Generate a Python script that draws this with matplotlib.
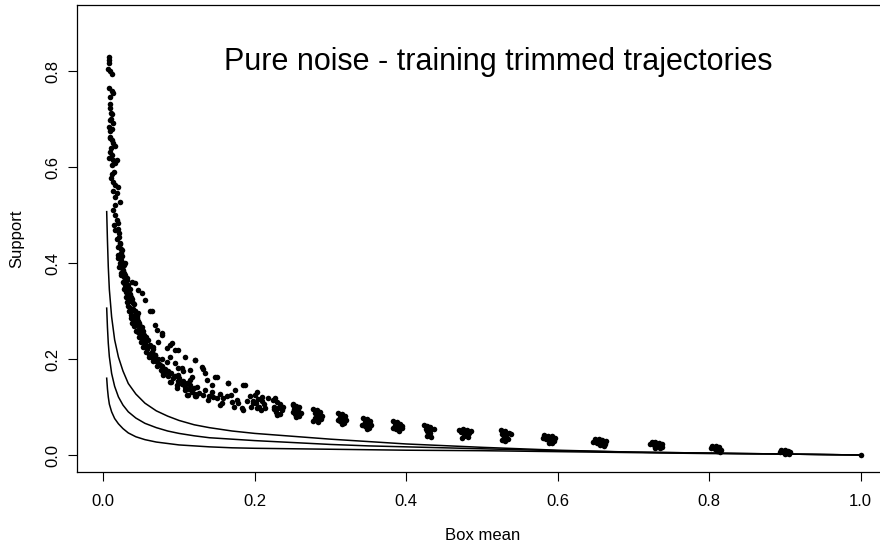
import matplotlib
matplotlib.use("Agg")
import matplotlib.pyplot as plt

plt.rcParams['font.family'] = ['Liberation Sans', 'DejaVu Sans']

# reference curves (box mean vs support)
curve_x = [0.0045, 0.0055, 0.0066, 0.008, 0.011, 0.015, 0.02, 0.026, 0.033, 0.043,
           0.055, 0.07, 0.085, 0.10, 0.12, 0.14, 0.17, 0.20, 0.25, 0.30,
           0.35, 0.40, 0.50, 0.60, 0.70, 0.80, 0.90, 1.00]
curve_hi = [0.507, 0.447, 0.392, 0.345, 0.288, 0.240, 0.204, 0.175, 0.149, 0.127,
            0.108, 0.092, 0.081, 0.072, 0.063, 0.057, 0.050, 0.045, 0.039, 0.033,
            0.028, 0.023, 0.016, 0.010, 0.006, 0.004, 0.002, 0.000]
curve_mid = [0.306, 0.266, 0.233, 0.205, 0.170, 0.143, 0.121, 0.104, 0.090, 0.077,
             0.066, 0.057, 0.050, 0.045, 0.040, 0.036, 0.033, 0.030, 0.026, 0.022,
             0.019, 0.017, 0.013, 0.009, 0.006, 0.004, 0.002, 0.000]
curve_lo = [0.160, 0.138, 0.121, 0.106, 0.090, 0.076, 0.065, 0.055, 0.046, 0.038,
            0.032, 0.027, 0.024, 0.021, 0.019, 0.017, 0.015, 0.014, 0.013, 0.012,
            0.011, 0.010, 0.009, 0.007, 0.005, 0.003, 0.002, 0.000]

# trimmed trajectories, left part (steep band)
band_pts = [
    (0.0080, 0.829), (0.0080, 0.822), (0.0080, 0.816), (0.0058, 0.804), (0.0088, 0.799),
    (0.0110, 0.794), (0.0080, 0.764), (0.0110, 0.759), (0.0132, 0.754), (0.0088, 0.731),
    (0.0088, 0.722), (0.0102, 0.712), (0.0102, 0.701), (0.0088, 0.697), (0.0132, 0.692),
    (0.0080, 0.684), (0.0088, 0.674), (0.0088, 0.663), (0.0110, 0.656), (0.0132, 0.649),
    (0.0154, 0.644), (0.0088, 0.660), (0.0088, 0.632), (0.0110, 0.625), (0.0080, 0.618),
    (0.0132, 0.615), (0.0154, 0.608), (0.0110, 0.604), (0.0176, 0.615), (0.0102, 0.577),
    (0.0132, 0.569), (0.0154, 0.563), (0.0198, 0.559), (0.0132, 0.549), (0.0176, 0.545),
    (0.0154, 0.538), (0.0220, 0.528),
    (0.0132, 0.510), (0.0154, 0.500), (0.0177, 0.490), (0.0146, 0.479), (0.0198, 0.483),
    (0.0154, 0.469), (0.0207, 0.462), (0.0177, 0.451), (0.0220, 0.441), (0.0190, 0.434),
    (0.0243, 0.427), (0.0198, 0.417), (0.0234, 0.406), (0.0286, 0.399), (0.0207, 0.392),
    (0.0264, 0.385), (0.0234, 0.375), (0.0308, 0.368), (0.0278, 0.358), (0.0330, 0.351),
    (0.0375, 0.361), (0.0419, 0.358), (0.0462, 0.344), (0.0330, 0.333), (0.0375, 0.326),
    (0.0308, 0.319), (0.0396, 0.316), (0.0507, 0.337), (0.0551, 0.323), (0.0352, 0.306),
    (0.0419, 0.299), (0.0366, 0.292), (0.0462, 0.295), (0.0617, 0.299), (0.0396, 0.281),
    (0.0440, 0.274), (0.0507, 0.267), (0.0462, 0.257), (0.0683, 0.271), (0.0705, 0.260),
    (0.0771, 0.250), (0.0528, 0.247), (0.0594, 0.240), (0.0551, 0.233), (0.0660, 0.226),
    (0.0727, 0.236), (0.0837, 0.222), (0.0903, 0.233), (0.0947, 0.219), (0.0683, 0.208),
    (0.0771, 0.201), (0.0748, 0.188), (0.0837, 0.194), (0.0881, 0.205), (0.0947, 0.191),
    (0.0991, 0.181), (0.0792, 0.170), (0.0881, 0.153), (0.0969, 0.146), (0.1035, 0.181),
    (0.1079, 0.205), (0.1057, 0.174), (0.1145, 0.177), (0.1211, 0.198), (0.1167, 0.163),
    (0.1299, 0.184), (0.1343, 0.170), (0.1365, 0.156), (0.1431, 0.146), (0.1233, 0.142),
    (0.1079, 0.135), (0.1122, 0.125), (0.1211, 0.122), (0.1343, 0.135), (0.1431, 0.132),
    (0.1387, 0.115), (0.1497, 0.118), (0.1541, 0.128), (0.1563, 0.108), (0.1629, 0.122),
    (0.1651, 0.149), (0.1695, 0.111), (0.1761, 0.115), (0.1827, 0.097), (0.1871, 0.146),
    (0.1937, 0.122), (0.1981, 0.108), (0.1475, 0.163), (0.1739, 0.135), (0.1145, 0.156),
    (0.0991, 0.167), (0.1211, 0.128),
    (0.022, 0.440), (0.024, 0.430), (0.026, 0.400), (0.028, 0.380), (0.030, 0.340),
    (0.032, 0.330), (0.034, 0.320), (0.036, 0.300), (0.038, 0.290), (0.040, 0.280),
    (0.043, 0.270), (0.046, 0.260), (0.048, 0.250), (0.051, 0.240), (0.055, 0.230),
    (0.058, 0.220), (0.060, 0.210), (0.063, 0.205), (0.067, 0.200), (0.070, 0.195),
    (0.073, 0.190), (0.078, 0.185), (0.082, 0.180), (0.086, 0.175), (0.090, 0.170),
    (0.095, 0.165), (0.100, 0.160), (0.105, 0.155), (0.110, 0.150), (0.115, 0.145),
    (0.120, 0.140), (0.025, 0.390), (0.027, 0.370), (0.029, 0.350), (0.031, 0.345),
    (0.035, 0.335), (0.033, 0.310), (0.039, 0.305), (0.041, 0.290), (0.044, 0.285),
    (0.047, 0.275), (0.050, 0.260), (0.054, 0.250), (0.057, 0.245), (0.062, 0.230),
    (0.065, 0.220),
    (0.064, 0.299), (0.078, 0.254), (0.088, 0.229), (0.099, 0.219), (0.121, 0.198),
    (0.132, 0.180), (0.150, 0.163), (0.165, 0.149), (0.185, 0.146), (0.2025, 0.132),
    (0.227, 0.118), (0.251, 0.104),
    (0.079, 0.167), (0.090, 0.153), (0.097, 0.139), (0.110, 0.125), (0.123, 0.122),
    (0.139, 0.122), (0.154, 0.104), (0.172, 0.100), (0.185, 0.094),
    (0.019, 0.470), (0.021, 0.455), (0.023, 0.420), (0.020, 0.410), (0.025, 0.415),
    (0.027, 0.395), (0.022, 0.400), (0.024, 0.380), (0.029, 0.375), (0.026, 0.360),
    (0.031, 0.365), (0.028, 0.345), (0.033, 0.355), (0.030, 0.330), (0.035, 0.345),
    (0.032, 0.320), (0.037, 0.330), (0.034, 0.300), (0.040, 0.315), (0.036, 0.285),
    (0.042, 0.300), (0.038, 0.275), (0.044, 0.290), (0.040, 0.268), (0.046, 0.280),
    (0.043, 0.258), (0.049, 0.268), (0.047, 0.245), (0.053, 0.258), (0.050, 0.235),
    (0.056, 0.240), (0.053, 0.225), (0.060, 0.228), (0.057, 0.215), (0.064, 0.215),
    (0.061, 0.205), (0.068, 0.208), (0.066, 0.195), (0.072, 0.200), (0.071, 0.185),
    (0.076, 0.178), (0.081, 0.172), (0.085, 0.165), (0.092, 0.160), (0.098, 0.155),
    (0.104, 0.148), (0.108, 0.142), (0.113, 0.138), (0.117, 0.132), (0.127, 0.130),
    (0.131, 0.125), (0.145, 0.120), (0.158, 0.118), (0.168, 0.125), (0.178, 0.108),
    (0.190, 0.113), (0.195, 0.100), (0.016, 0.520), (0.012, 0.585), (0.014, 0.590),
    (0.010, 0.640), (0.012, 0.680), (0.009, 0.745), (0.011, 0.710),
]

# trimmed trajectories, clusters at later peeling steps
cluster_pts = [
    (0.200, 0.124), (0.204, 0.117), (0.209, 0.113), (0.201, 0.109), (0.212, 0.106),
    (0.206, 0.101), (0.214, 0.097), (0.208, 0.093), (0.198, 0.112), (0.217, 0.119),
    (0.203, 0.098), (0.210, 0.120),
    (0.224, 0.114), (0.229, 0.110), (0.233, 0.106), (0.226, 0.101), (0.231, 0.097),
    (0.236, 0.093), (0.228, 0.090), (0.233, 0.086), (0.225, 0.095), (0.237, 0.101),
    (0.230, 0.084),
    (0.250, 0.106), (0.255, 0.103), (0.259, 0.099), (0.252, 0.096), (0.257, 0.092),
    (0.261, 0.088), (0.253, 0.086), (0.258, 0.082), (0.250, 0.090), (0.255, 0.080),
    (0.277, 0.096), (0.282, 0.094), (0.286, 0.090), (0.279, 0.087), (0.284, 0.084),
    (0.289, 0.081), (0.280, 0.078), (0.285, 0.074), (0.277, 0.071), (0.283, 0.069),
    (0.288, 0.076),
    (0.310, 0.088), (0.315, 0.086), (0.319, 0.082), (0.312, 0.079), (0.317, 0.076),
    (0.321, 0.072), (0.313, 0.070), (0.318, 0.066), (0.310, 0.073), (0.315, 0.064),
    (0.343, 0.077), (0.348, 0.075), (0.352, 0.071), (0.345, 0.068), (0.350, 0.065),
    (0.354, 0.062), (0.346, 0.060), (0.351, 0.056), (0.342, 0.063), (0.348, 0.054),
    (0.383, 0.070), (0.388, 0.068), (0.392, 0.065), (0.385, 0.062), (0.390, 0.059),
    (0.395, 0.057), (0.386, 0.054), (0.391, 0.051), (0.382, 0.057), (0.394, 0.061),
    (0.423, 0.063), (0.428, 0.061), (0.432, 0.058), (0.426, 0.055), (0.431, 0.052),
    (0.436, 0.054), (0.427, 0.049), (0.432, 0.046), (0.428, 0.040), (0.433, 0.038),
    (0.470, 0.052), (0.475, 0.055), (0.480, 0.053), (0.485, 0.050), (0.472, 0.047),
    (0.478, 0.045), (0.483, 0.046), (0.476, 0.040), (0.481, 0.037), (0.474, 0.035),
    (0.525, 0.052), (0.530, 0.049), (0.535, 0.046), (0.527, 0.044), (0.532, 0.041),
    (0.538, 0.043), (0.529, 0.037), (0.534, 0.034), (0.526, 0.031), (0.531, 0.030),
    (0.582, 0.042), (0.587, 0.040), (0.592, 0.039), (0.596, 0.036), (0.580, 0.035),
    (0.585, 0.033), (0.590, 0.031), (0.595, 0.029), (0.588, 0.026), (0.593, 0.024),
    (0.649, 0.034), (0.654, 0.033), (0.659, 0.031), (0.664, 0.030), (0.647, 0.028),
    (0.652, 0.026), (0.658, 0.025), (0.663, 0.022), (0.656, 0.020), (0.661, 0.019),
    (0.724, 0.028), (0.729, 0.027), (0.734, 0.026), (0.738, 0.023), (0.722, 0.022),
    (0.727, 0.020), (0.732, 0.019), (0.737, 0.017), (0.729, 0.015), (0.735, 0.014),
    (0.804, 0.019), (0.809, 0.018), (0.813, 0.016), (0.802, 0.015), (0.807, 0.013),
    (0.812, 0.012), (0.816, 0.010), (0.810, 0.008), (0.814, 0.007),
    (0.895, 0.010), (0.900, 0.011), (0.904, 0.009), (0.893, 0.007), (0.898, 0.006),
    (0.903, 0.005), (0.907, 0.006), (0.900, 0.003), (0.905, 0.003),
    (1.000, 0.000),
]

x_ticks = [0.0, 0.2, 0.4, 0.6, 0.8, 1.0]
y_ticks = [0.0, 0.2, 0.4, 0.6, 0.8]

fig = plt.figure(figsize=(8.8, 5.45), dpi=100)
# plot region is cut off on the right, like the original
ax = fig.add_axes([77 / 880, 1 - 472 / 545, (891 - 77) / 880, (472 - 5) / 545])

for cy in (curve_hi, curve_mid, curve_lo):
    ax.plot(curve_x, cy, color='black', lw=1.1)

pts = band_pts + cluster_pts
ax.scatter([p[0] for p in pts], [p[1] for p in pts], s=16, color='black',
           linewidths=0, zorder=3)

ax.set_xlim(-0.0347, 1.04)
ax.set_ylim(-0.0354, 0.9375)
ax.set_xticks(x_ticks)
ax.set_xticklabels(['0.0', '0.2', '0.4', '0.6', '0.8', '1.0'])
ax.set_yticks(y_ticks)
ax.set_yticklabels(['0.0', '0.2', '0.4', '0.6', '0.8'], rotation=90, va='center')
ax.tick_params(direction='out', length=6.5, width=0.8, labelsize=12)
ax.tick_params(axis='x', pad=9)
ax.tick_params(axis='y', pad=5.5)
for sp in ax.spines.values():
    sp.set_linewidth(0.9)

ax.set_xlabel('Box mean', fontsize=12, va='center')
ax.xaxis.set_label_coords(0.498, -0.137)
ax.set_ylabel('Support', fontsize=12, va='center')
ax.yaxis.set_label_coords(-0.0737, 0.5)

ax.text(0.522, 0.802, 'Pure noise - training trimmed trajectories', fontsize=22,
        ha='center', va='baseline')

fig.savefig('out.png', dpi=100)
